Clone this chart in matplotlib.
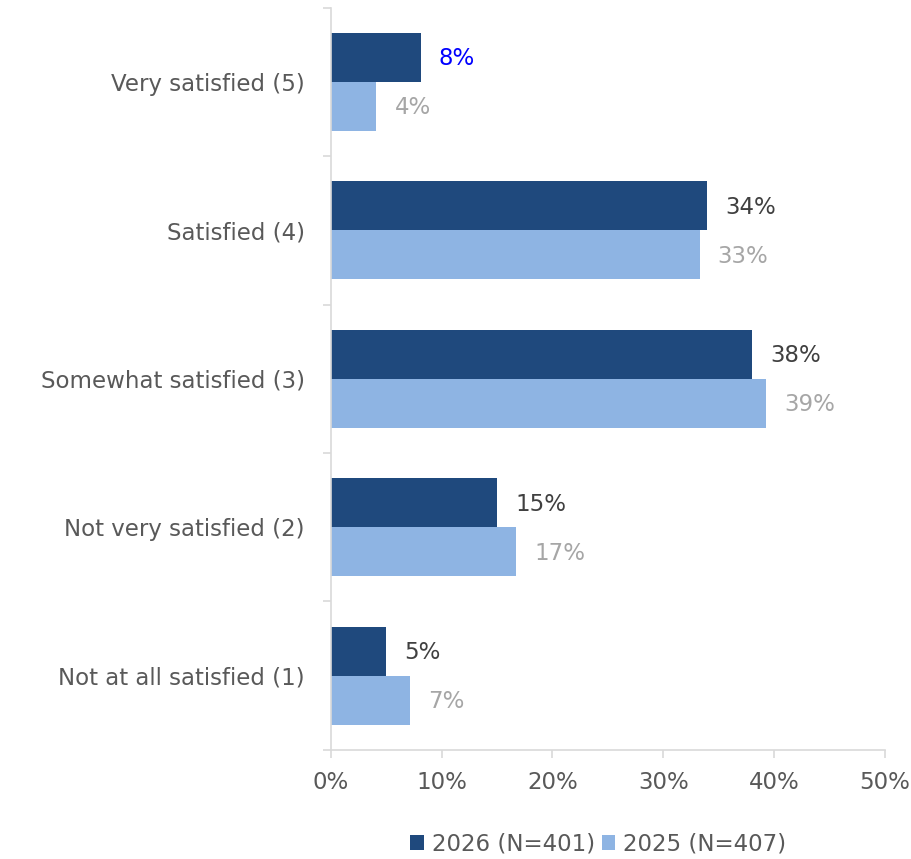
import matplotlib
matplotlib.use("Agg")
import matplotlib.pyplot as plt
import numpy as np

categories = ["Very satisfied (5)", "Satisfied (4)", "Somewhat satisfied (3)",
              "Not very satisfied (2)", "Not at all satisfied (1)"]
vals_2026 = [8.1, 34.0, 38.0, 15.0, 5.0]
vals_2025 = [4.1, 33.3, 39.3, 16.7, 7.1]
labels_2026 = ["8%", "34%", "38%", "15%", "5%"]
labels_2025 = ["4%", "33%", "39%", "17%", "7%"]
series_names = ["2026 (N=401)", "2025 (N=407)"]

DARK = "#1f497d"
LIGHT = "#8eb4e3"
TEXT = "#595959"
FS = 16.5

plt.rcParams["font.family"] = ["DejaVu Sans"]

fig = plt.figure(figsize=(9.12, 8.59), dpi=100)
ax = fig.add_axes([0.363, 0.127, 0.607, 0.864])

y = np.arange(len(categories))
h = 0.33
ax.barh(y - h / 2, vals_2026, height=h, color=DARK, label=series_names[0])
ax.barh(y + h / 2, vals_2025, height=h, color=LIGHT, label=series_names[1])

for i in range(len(categories)):
    c = "#0000ff" if i == 0 else "#404040"
    ax.annotate(labels_2026[i], (vals_2026[i], y[i] - h / 2), xytext=(13, -1),
                textcoords="offset points", va="center", ha="left", fontsize=FS, color=c)
    ax.annotate(labels_2025[i], (vals_2025[i], y[i] + h / 2), xytext=(13, -1),
                textcoords="offset points", va="center", ha="left", fontsize=FS, color="#a6a6a6")

ax.set_xlim(0, 50)
ax.set_ylim(len(categories) - 0.5, -0.5)
ax.set_xticks(np.arange(0, 51, 10))
ax.set_xticklabels([f"{v}%" for v in range(0, 51, 10)])
ax.set_yticks(y)
ax.set_yticklabels(categories)
ax.set_yticks(np.arange(-0.5, len(categories), 1.0), minor=True)
ax.tick_params(axis="y", which="major", length=0, pad=19, labelsize=FS, labelcolor=TEXT)
ax.tick_params(axis="y", which="minor", length=6, color="#d9d9d9", width=1.2)
ax.tick_params(axis="x", length=6, color="#d9d9d9", width=1.2, labelsize=FS,
               labelcolor=TEXT, pad=9)

for s in ["top", "right"]:
    ax.spines[s].set_visible(False)
for s in ["left", "bottom"]:
    ax.spines[s].set_color("#d9d9d9")
    ax.spines[s].set_linewidth(1.2)

fig.legend(loc="lower center", bbox_to_anchor=(0.656, -0.02), ncol=2, frameon=False,
           fontsize=FS, labelcolor=TEXT, handlelength=0.6, handleheight=0.6,
           handletextpad=0.35, columnspacing=0.3)

fig.savefig("out.png", dpi=100)
